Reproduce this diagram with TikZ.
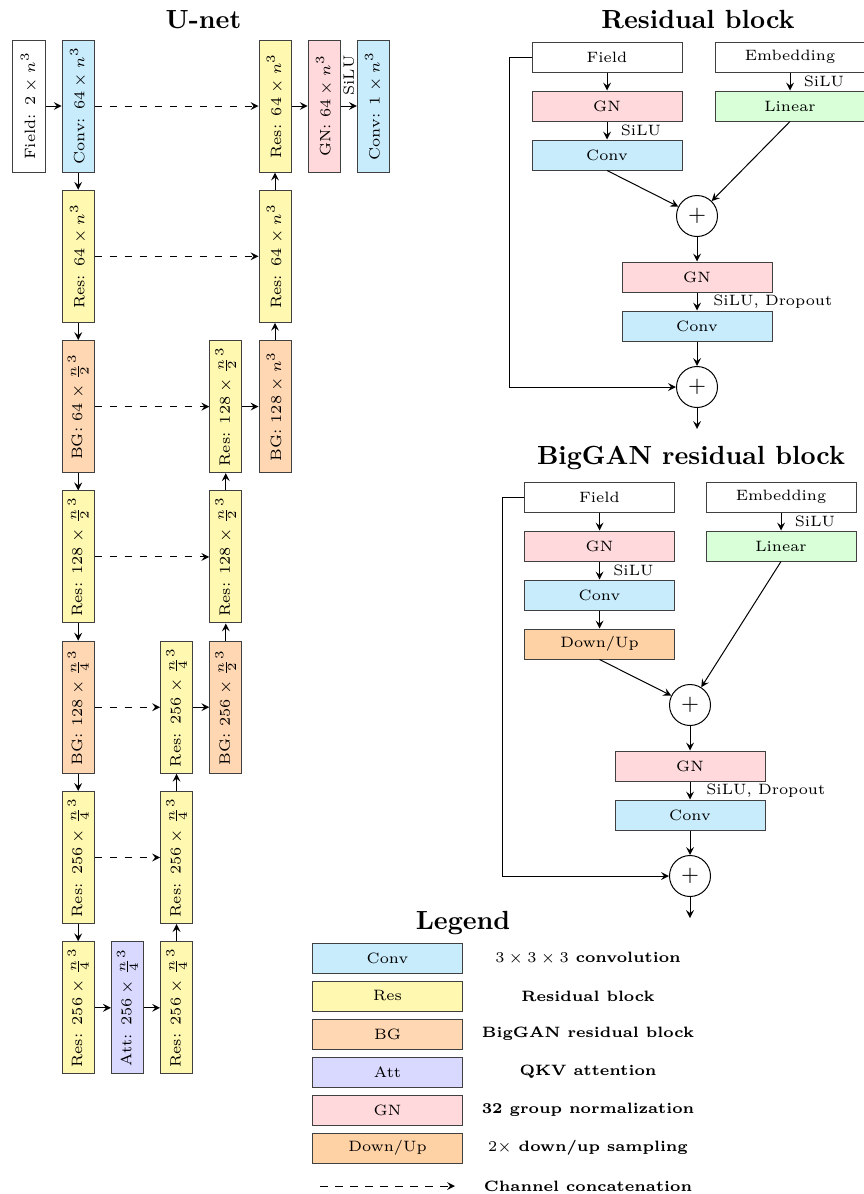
\documentclass[tikz,border=0pt]{standalone}

\definecolor{convcol}{RGB}{200,236,252}
\definecolor{rescol}{RGB}{255,248,176}
\definecolor{bgcol}{RGB}{255,215,178}
\definecolor{attcol}{RGB}{217,217,255}
\definecolor{gncol}{RGB}{255,217,220}
\definecolor{lincol}{RGB}{217,255,217}
\definecolor{ducol}{RGB}{255,210,165}

\newcommand{\boxfont}{\fontsize{6}{7.2}\selectfont}

\begin{document}
\begin{tikzpicture}[x=0.4pt, y=-0.4pt, >=stealth]
   \tikzstyle{every node}=[font=\boxfont]
   \tikzstyle{vbox}=[draw=black!75, rotate=90, minimum width=52.8pt, minimum height=12.8pt, inner sep=0pt]
   \tikzstyle{hbox}=[draw=black!75, minimum width=60pt, minimum height=12pt, inner sep=0pt]
   \tikzstyle{sum}=[draw, circle, minimum size=16.4pt, inner sep=0pt, font=\small]
   \tikzstyle{heading}=[font=\fontsize{10.5}{12}\selectfont\bfseries]
   \tikzstyle{concat}=[->, dashed]

   \useasboundingbox (0,0) rectangle (864,1194);

% U-net
\node[heading] at (203.5,20) {U-net};
\node[vbox] (field) at (29,106) {Field: $2 \times n^3$};
\node[vbox, fill=convcol] (conv) at (78.2,106) {Conv: $64 \times n^3$};
\node[vbox, fill=rescol] (d1) at (78.2,256.3) {Res: $64 \times n^3$};
\node[vbox, fill=bgcol] (d2) at (78.2,406.6) {BG: $64 \times \frac{n}{2}^3$};
\node[vbox, fill=rescol] (d3) at (78.2,556.9) {Res: $128 \times \frac{n}{2}^3$};
\node[vbox, fill=bgcol] (d4) at (78.2,707.2) {BG: $128 \times \frac{n}{4}^3$};
\node[vbox, fill=rescol] (d5) at (78.2,857.5) {Res: $256 \times \frac{n}{4}^3$};
\node[vbox, fill=rescol] (d6) at (78.2,1007.8) {Res: $256 \times \frac{n}{4}^3$};
\node[vbox, fill=attcol] (att) at (127.4,1007.8) {Att: $256 \times \frac{n}{4}^3$};
\node[vbox, fill=rescol] (u6) at (176.6,1007.8) {Res: $256 \times \frac{n}{4}^3$};
\node[vbox, fill=rescol] (u5) at (176.6,857.5) {Res: $256 \times \frac{n}{4}^3$};
\node[vbox, fill=rescol] (u4) at (176.6,707.2) {Res: $256 \times \frac{n}{4}^3$};
\node[vbox, fill=bgcol] (b4) at (225.8,707.2) {BG: $256 \times \frac{n}{2}^3$};
\node[vbox, fill=rescol] (u3) at (225.8,556.9) {Res: $128 \times \frac{n}{2}^3$};
\node[vbox, fill=rescol] (u2) at (225.8,406.6) {Res: $128 \times \frac{n}{2}^3$};
\node[vbox, fill=bgcol] (b2) at (275,406.6) {BG: $128 \times n^3$};
\node[vbox, fill=rescol] (u1) at (275,256.3) {Res: $64 \times n^3$};
\node[vbox, fill=rescol] (u0) at (275,106) {Res: $64 \times n^3$};
\node[vbox, fill=gncol] (gn) at (324.2,106) {GN: $64 \times n^3$};
\node[vbox, fill=convcol] (out) at (373.4,106) {Conv: $1 \times n^3$};

\draw[->] (field) -- (conv);
\draw[->] (conv) -- (d1);
\draw[->] (d1) -- (d2);
\draw[->] (d2) -- (d3);
\draw[->] (d3) -- (d4);
\draw[->] (d4) -- (d5);
\draw[->] (d5) -- (d6);
\draw[->] (d6) -- (att);
\draw[->] (att) -- (u6);
\draw[->] (u6) -- (u5);
\draw[->] (u5) -- (u4);
\draw[->] (u4) -- (b4);
\draw[->] (b4) -- (u3);
\draw[->] (u3) -- (u2);
\draw[->] (u2) -- (b2);
\draw[->] (b2) -- (u1);
\draw[->] (u1) -- (u0);
\draw[->] (u0) -- (gn);
\draw[->] (gn) -- node[rotate=90, anchor=west, inner sep=4pt] {SiLU} (out);

% skip connections
\draw[concat] (conv) -- (u0);
\draw[concat] (d1) -- (u1);
\draw[concat] (d2) -- (u2);
\draw[concat] (d3) -- (u3);
\draw[concat] (d4) -- (u4);
\draw[concat] (d5) -- (u5);

% Residual block
\node[heading] at (698,20) {Residual block};
\node[hbox] (rfield) at (607,57) {Field};
\node[hbox] (remb) at (790,57) {Embedding};
\node[hbox, fill=gncol] (rgn1) at (607,106) {GN};
\node[hbox, fill=lincol] (rlin) at (790,106) {Linear};
\node[hbox, fill=convcol] (rconv1) at (607,155) {Conv};
\node[sum] (rsum1) at (697,216) {$+$};
\node[hbox, fill=gncol] (rgn2) at (697,277) {GN};
\node[hbox, fill=convcol] (rconv2) at (697,326) {Conv};
\node[sum] (rsum2) at (697,387) {$+$};
\coordinate (rout) at (697,429);

\draw[->] (rfield) -- (rgn1);
\draw[->] (remb) -- node[right, xshift=2pt] {SiLU} (rlin);
\draw[->] (rgn1) -- node[right, xshift=2pt] {SiLU} (rconv1);
\draw[->] (rconv1.south) -- (rsum1);
\draw[->] (rlin.south) -- (rsum1);
\draw[->] (rsum1) -- (rgn2);
\draw[->] (rgn2) -- node[right, xshift=3pt] {SiLU, Dropout} (rconv2);
\draw[->] (rconv2) -- (rsum2);
\draw[->] (rsum2) -- (rout);
\draw[->] (rfield.west) -- ++(-22,0) |- (rsum2.west);

% BigGAN residual block
\node[heading] at (691,458) {BigGAN residual block};
\node[hbox] (bfield) at (599.5,497) {Field};
\node[hbox] (bemb) at (781,497) {Embedding};
\node[hbox, fill=gncol] (bgn1) at (599.5,546) {GN};
\node[hbox, fill=lincol] (blin) at (781,546) {Linear};
\node[hbox, fill=convcol] (bconv1) at (599.5,595) {Conv};
\node[hbox, fill=ducol] (bdu) at (599.5,644) {Down/Up};
\node[sum] (bsum1) at (690,705) {$+$};
\node[hbox, fill=gncol] (bgn2) at (690,766) {GN};
\node[hbox, fill=convcol] (bconv2) at (690,815) {Conv};
\node[sum] (bsum2) at (690,876) {$+$};
\coordinate (bout) at (690,918);

\draw[->] (bfield) -- (bgn1);
\draw[->] (bemb) -- node[right, xshift=2pt] {SiLU} (blin);
\draw[->] (bgn1) -- node[right, xshift=2pt] {SiLU} (bconv1);
\draw[->] (bconv1) -- (bdu);
\draw[->] (bdu.south) -- (bsum1);
\draw[->] (blin.south) -- (bsum1);
\draw[->] (bsum1) -- (bgn2);
\draw[->] (bgn2) -- node[right, xshift=3pt] {SiLU, Dropout} (bconv2);
\draw[->] (bconv2) -- (bsum2);
\draw[->] (bsum2) -- (bout);
\draw[->] (bfield.west) -- ++(-22,0) |- (bsum2.west);

% Legend
\node[heading] at (463,923) {Legend};
\foreach \txt/\col/\desc [count=\i] in {Conv/convcol/{$3 \times 3 \times 3$ convolution},
    Res/rescol/{Residual block}, BG/bgcol/{BigGAN residual block},
    Att/attcol/{QKV attention}, GN/gncol/{32 group normalization},
    {Down/Up}/ducol/{$2\times$ down/up sampling}}
{
    \node[hbox, fill=\col] (leg\i) at (387.5,920+38*\i) {\txt};
    \node[font=\boxfont\bfseries] (legtxt\i) at (588,920+38*\i) {\desc};
}
\coordinate (cat0) at (320,1186);
\coordinate (cat1) at (455,1186);
\draw[concat] (cat0) -- (cat1);
\node[font=\boxfont\bfseries] (cattxt) at (588,1186) {Channel concatenation};

\end{tikzpicture}
\end{document}
